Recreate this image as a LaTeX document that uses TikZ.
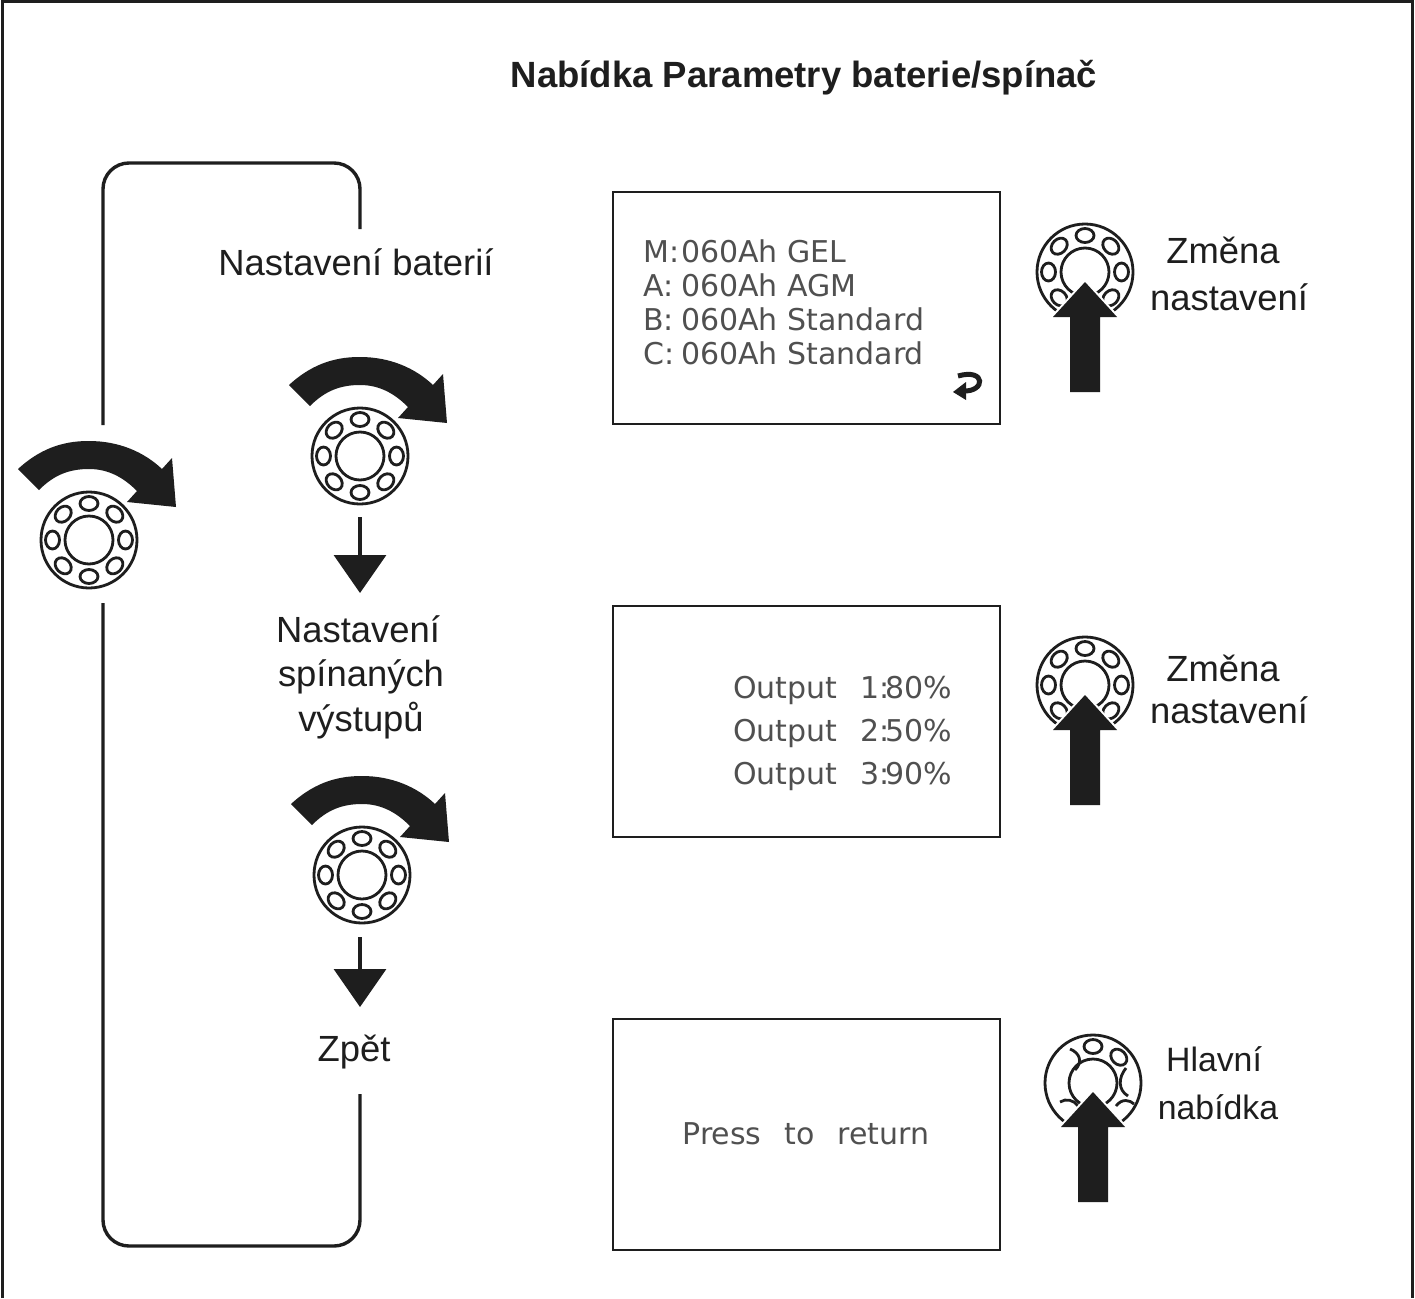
\documentclass[tikz,border=0pt]{standalone}
\usepackage{fontspec}
\setmainfont{Liberation Sans}
\newfontfamily\lcdfont{DejaVu Sans}
\usetikzlibrary{arrows.meta}
\definecolor{ink}{HTML}{1E1E1E}
\definecolor{lcdink}{HTML}{505050}
\tikzset{
  lab/.style={font=\fontsize{36.4}{47}\selectfont,text=ink,align=center,inner sep=0pt},
  ttl/.style={font=\bfseries\fontsize{36.5}{44}\selectfont,text=ink,inner sep=0pt},
  lcdbox/.style={draw=ink,line width=2.4pt,fill=white},
  lcdtext/.style={font=\lcdfont\fontsize{30}{34}\selectfont,text=lcdink,align=left,inner sep=0pt},
  loopline/.style={draw=ink,line width=3.4pt,rounded corners=26pt},
  downarrow/.style={draw=ink,line width=3.4pt,-{Triangle[width=52pt,length=38pt,fill=ink]}},
  ring/.style={draw=ink,line width=2.8pt},
  pics/knobring/.style={code={
    \draw[ring,fill=white] (0,0) circle[radius=48pt];
    \draw[ring] (0,0) circle[radius=24pt];
  }},
  pics/knobballs/.style={code={
    \foreach \a in {#1}{
      \draw[ring,fill=white,rotate=\a] (36.5pt,0pt) ellipse[x radius=7pt,y radius=9pt];
    }
  }},
  pics/turnarrow/.style={code={
    \fill[ink] (-71,-71) .. controls (-45,-95) and (-20,-99) .. (0,-99)
      .. controls (30,-99) and (55,-88) .. (73,-71) -- (83,-82) -- (87,-33) -- (38,-38) -- (48,-49)
      .. controls (35,-62) and (20,-71) .. (0,-71)
      .. controls (-20,-71) and (-35,-65) .. (-50,-50) -- cycle;
  }},
  pics/pusharrow/.style={code={
    \draw[white,line width=4pt,line join=miter]
      (0,0) -- (32,35) -- (15,35) -- (15,110) -- (-15,110) -- (-15,35) -- (-32,35) -- cycle;
    \fill[ink]
      (0,0) -- (32,35) -- (15,35) -- (15,110) -- (-15,110) -- (-15,35) -- (-32,35) -- cycle;
  }}
}
\begin{document}
\begin{tikzpicture}[x=1pt,y=-1pt]
\useasboundingbox (0,0) rectangle (1415,1298);
\fill[white] (0,0) rectangle (1415,1298);
\draw[ink,line width=3pt] (2,1298) -- (2,2) -- (1412,2) -- (1412,1298);

\node[ttl] (title) at (804,78) {Nabídka Parametry baterie/spínač};

% loop
\coordinate (loopA) at (360,229);
\coordinate (loopB) at (103,425);
\coordinate (loopC) at (103,603);
\coordinate (loopD) at (360,1094);
\draw[loopline] (loopA) -- (360,163) -- (103,163) -- (loopB);
\draw[loopline] (loopC) -- (103,1246) -- (360,1246) -- (loopD);

% left column labels
\node[lab] (set1) at (356,262) {Nastavení baterií};
\node[lab,font=\fontsize{36.4}{44.5}\selectfont] (set2) at (361,677) {Nastavení\hspace*{6pt}\\spínaných\\výstupů};
\node[lab] (set3) at (354,1052) {Zpět};

% rotary knobs with turn arrows
\coordinate (k0) at (89,540);
\coordinate (k1) at (360,456);
\coordinate (k2) at (362,875);
\foreach \c in {k0,k1,k2}{
  \pic at (\c) {turnarrow};
  \pic at (\c) {knobring};
  \pic at (\c) {knobballs={0,45,90,135,180,225,270,315}};
}

% step arrows
\coordinate (s1) at (360,517);
\coordinate (t1) at (360,593);
\coordinate (s2) at (360,937);
\coordinate (t2) at (360,1007);
\draw[downarrow] (s1) -- (t1);
\draw[downarrow] (s2) -- (t2);

% LCD boxes
\draw[lcdbox] (613,192) rectangle (1000,424);
\draw[lcdbox] (613,606) rectangle (1000,837);
\draw[lcdbox] (613,1019) rectangle (1000,1250);

\node[lcdtext,anchor=west] (lcdA) at (643,302) {\makebox[38pt][l]{M:}060Ah GEL\\\makebox[38pt][l]{A:}060Ah AGM\\\makebox[38pt][l]{B:}060Ah Standard\\\makebox[38pt][l]{C:}060Ah Standard};
\node[lcdtext,anchor=west,font=\lcdfont\fontsize{30}{43}\selectfont] (lcdB) at (733,733) {\makebox[127pt][l]{Output}1:\kern-4pt 80\%\\\makebox[127pt][l]{Output}2:\kern-4pt 50\%\\\makebox[127pt][l]{Output}3:\kern-4pt 90\%};
\node[lcdtext] (lcdC) at (806,1134) {Press\hspace{13.5pt} to\hspace{13.5pt} return};

% return symbol
\draw[ink,line width=5pt] (958,376) .. controls (986,368) and (986,392) .. (963,391);
\fill[ink] (953,392) -- (966,382) -- (966,400) -- cycle;

% push knobs
\begin{scope}
\clip (1030,210) rectangle (1145,317);
\pic at (1085,272) {knobring};
\pic at (1085,272) {knobballs={0,45,90,135,180,225,315}};
\end{scope}
\pic at (1085,282) {pusharrow};
\begin{scope}
\clip (1030,625) rectangle (1145,730);
\pic at (1085,685) {knobring};
\pic at (1085,685) {knobballs={0,45,90,135,180,225,315}};
\end{scope}
\pic at (1085,695) {pusharrow};
\begin{scope}
\clip (1035,1025) rectangle (1150,1127);
\pic at (1093,1083) {knobring};
\pic at (1093,1083) {knobballs={45,90}};
\draw[ring] (1070,1049) .. controls (1080,1053) and (1083,1062) .. (1075,1070);
\draw[ring] (1126,1068) .. controls (1118,1078) and (1118,1090) .. (1128,1096);
\draw[ring] (1060,1102) .. controls (1066,1098) and (1074,1100) .. (1078,1106);
\draw[ring] (1116,1106) .. controls (1122,1098) and (1130,1100) .. (1134,1104);
\end{scope}
\pic at (1093,1092) {pusharrow};

% right labels
\node[lab] (ch1) at (1229,274) {Změna\hspace*{12pt}\\nastavení};
\node[lab,font=\fontsize{36.4}{42}\selectfont] (ch2) at (1229,689) {Změna\hspace*{12pt}\\nastavení};
\node[lab,font=\fontsize{33.8}{48}\selectfont] (ch3) at (1218,1083) {Hlavní\hspace*{8pt}\\nabídka};
\end{tikzpicture}
\end{document}
